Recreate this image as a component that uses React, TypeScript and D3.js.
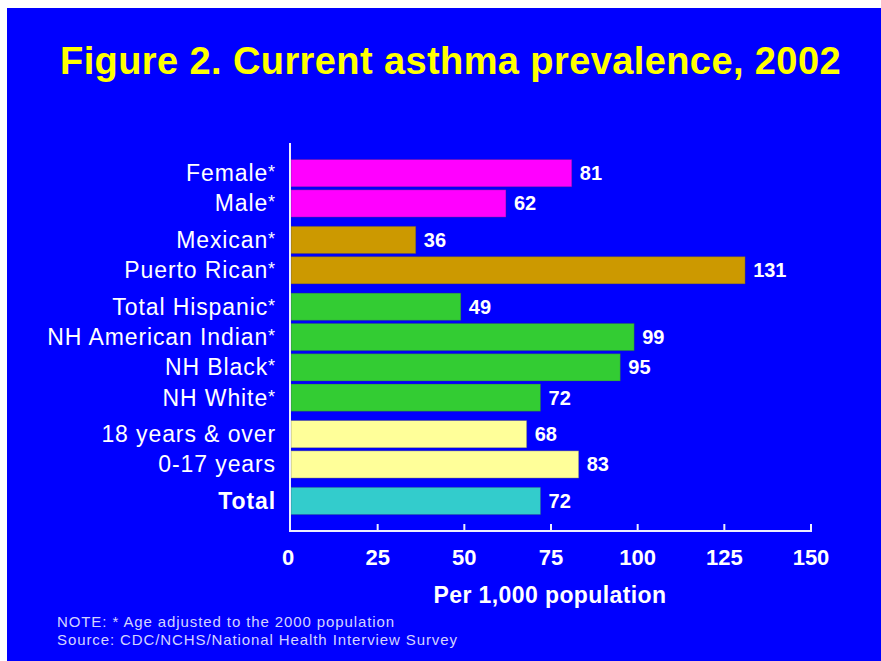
import React from "react";
import * as d3 from "d3";

// Rates per 1,000 population, 2002
const categories = [
  "Female",
  "Male",
  "Mexican",
  "Puerto Rican",
  "Total Hispanic",
  "NH American Indian",
  "NH Black",
  "NH White",
  "18 years & over",
  "0-17 years",
  "Total",
];
const values = [81, 62, 36, 131, 49, 99, 95, 72, 68, 83, 72];
const ageAdjusted = [true, true, true, true, true, true, true, true, false, false, false];
const groupOf = [0, 0, 1, 1, 2, 2, 2, 2, 3, 3, 4];
const groupColors = ["#ff00ff", "#cc9900", "#33cc33", "#ffff99", "#33cccc"];
const xTicks = [0, 25, 50, 75, 100, 125, 150];

const W = 881;
const H = 661;
const FONT = "Arial, 'Liberation Sans', Helvetica, sans-serif";

export default function App() {
  const x = d3.scaleLinear().domain([0, 150]).range([291, 811]);
  const row = d3.scaleLinear().domain([0, categories.length - 1]).range([159.5, 462.5]);
  const groupGap = 6.2;
  const barH = 27.3;
  const axisY = 531;
  const axisX = 290;

  const top = (i: number) => row(i) + groupOf[i] * groupGap;

  return (
    <svg
      width={W}
      height={H}
      style={{ position: "absolute", left: 0, top: 0 }}
      fontFamily={FONT}
    >
      <rect x={7} y={8} width={W - 7} height={H - 8} fill="#0000ff" />

      <text
        x={450.5}
        y={74}
        textAnchor="middle"
        fontSize={38}
        fontWeight="bold"
        letterSpacing={0.4}
        fill="#ffff00"
      >
        Figure 2. Current asthma prevalence, 2002
      </text>

      {/* bars */}
      {values.map((v, i) => (
        <rect
          key={"b" + i}
          x={x(0)}
          y={top(i)}
          width={x(v) - x(0)}
          height={barH}
          fill={groupColors[groupOf[i]]}
          stroke="#333366"
          strokeOpacity={0.35}
          strokeWidth={1}
        />
      ))}

      {/* value labels */}
      {values.map((v, i) => (
        <text
          key={"v" + i}
          x={x(v) + 8}
          y={top(i) + barH / 2 + 7}
          fontSize={20}
          fontWeight="bold"
          fill="#ffffff"
        >
          {v}
        </text>
      ))}

      {/* category labels */}
      {categories.map((c, i) => (
        <text
          key={"c" + i}
          x={276}
          y={top(i) + barH / 2 + 8}
          textAnchor="end"
          fontSize={23}
          letterSpacing={0.9}
          fontWeight={c === "Total" ? "bold" : "normal"}
          fill="#ffffff"
        >
          {c}
          {ageAdjusted[i] ? (
            <tspan fontSize={18} dy={-3}>
              *
            </tspan>
          ) : null}
        </text>
      ))}

      {/* axes */}
      <line x1={axisX} y1={143} x2={axisX} y2={axisY} stroke="#eeeeff" strokeWidth={2} />
      <line x1={axisX - 1} y1={axisY} x2={x(150) + 1} y2={axisY} stroke="#eeeeff" strokeWidth={2} />
      {xTicks.map((t) => (
        <g key={"t" + t}>
          {t > 0 ? (
            <line x1={x(t)} y1={axisY} x2={x(t)} y2={axisY - 7} stroke="#eeeeff" strokeWidth={2} />
          ) : null}
          <text
            x={t === 0 ? axisX - 2 : x(t)}
            y={565}
            textAnchor="middle"
            fontSize={22}
            fontWeight="bold"
            fill="#ffffff"
          >
            {t}
          </text>
        </g>
      ))}

      <text
        x={550}
        y={603}
        textAnchor="middle"
        fontSize={23}
        fontWeight="bold"
        letterSpacing={0.4}
        fill="#ffffff"
      >
        Per 1,000 population
      </text>

      <text x={57} y={627} fontSize={15} letterSpacing={0.9} fill="#d4d4ff">
        NOTE: * Age adjusted to the 2000 population
      </text>
      <text x={57} y={645} fontSize={15} letterSpacing={0.9} fill="#d4d4ff">
        Source: CDC/NCHS/National Health Interview Survey
      </text>
    </svg>
  );
}
